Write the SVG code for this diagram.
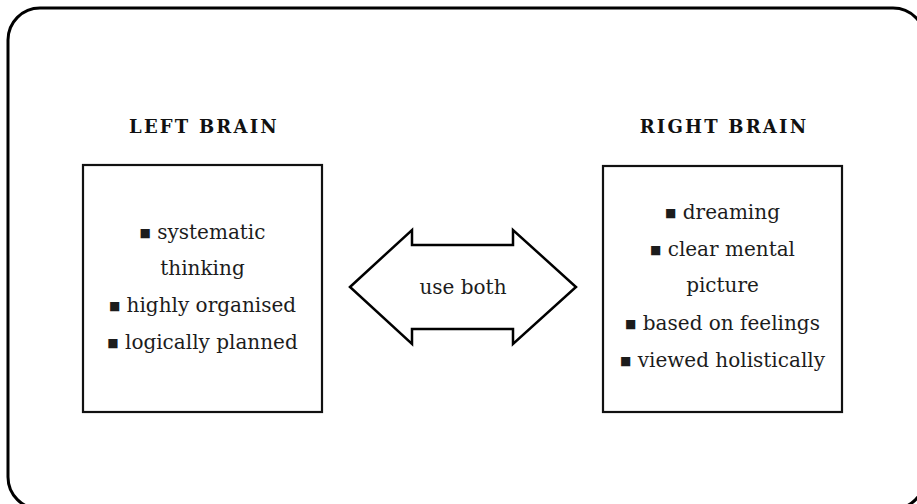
<svg xmlns="http://www.w3.org/2000/svg" width="917" height="504" viewBox="0 0 917 504">
  <style>
    .frame { fill: #fff; stroke: #000; stroke-width: 3; }
    .box { fill: #fff; stroke: #111; stroke-width: 2.2; }
    .arrow { fill: #fff; stroke: #000; stroke-width: 2.5; stroke-linejoin: miter; }
    .title { font-family: "DejaVu Serif", "Liberation Serif", serif; font-weight: bold; font-size: 18px; letter-spacing: 2.2px; fill: #111; text-anchor: middle; }
    .item { font-family: "DejaVu Serif", "Liberation Serif", serif; font-size: 20px; fill: #1c1c1c; text-anchor: middle; }
    .bullet { font-size: 12px; }
  </style>

  <!-- outer frame -->
  <rect class="frame" x="8" y="8" width="917" height="501" rx="32" ry="32"/>

  <!-- left hemisphere -->
  <g id="left-brain">
    <text class="title" x="204" y="133">LEFT BRAIN</text>
    <rect class="box" x="83" y="165" width="239" height="247"/>
    <text class="item" x="202.5" y="239"><tspan class="bullet" dy="-2">■</tspan><tspan dy="2"> systematic</tspan></text>
    <text class="item" x="202.5" y="275">thinking</text>
    <text class="item" x="202.5" y="312"><tspan class="bullet" dy="-2">■</tspan><tspan dy="2"> highly organised</tspan></text>
    <text class="item" x="202.5" y="349"><tspan class="bullet" dy="-2">■</tspan><tspan dy="2"> logically planned</tspan></text>
  </g>

  <!-- right hemisphere -->
  <g id="right-brain">
    <text class="title" x="724" y="133">RIGHT BRAIN</text>
    <rect class="box" x="603" y="166" width="239" height="246"/>
    <text class="item" x="722.5" y="219"><tspan class="bullet" dy="-2">■</tspan><tspan dy="2"> dreaming</tspan></text>
    <text class="item" x="722.5" y="256"><tspan class="bullet" dy="-2">■</tspan><tspan dy="2"> clear mental</tspan></text>
    <text class="item" x="722.5" y="292">picture</text>
    <text class="item" x="722.5" y="330"><tspan class="bullet" dy="-2">■</tspan><tspan dy="2"> based on feelings</tspan></text>
    <text class="item" x="722.5" y="367"><tspan class="bullet" dy="-2">■</tspan><tspan dy="2"> viewed holistically</tspan></text>
  </g>

  <!-- double-headed block arrow between the two boxes -->
  <g id="connectors">
    <polygon class="arrow" points="350,287 412,230 412,245 513,245 513,230 576,287 513,344 513,329 412,329 412,344"/>
    <text class="item" x="463" y="294">use both</text>
  </g>
</svg>
